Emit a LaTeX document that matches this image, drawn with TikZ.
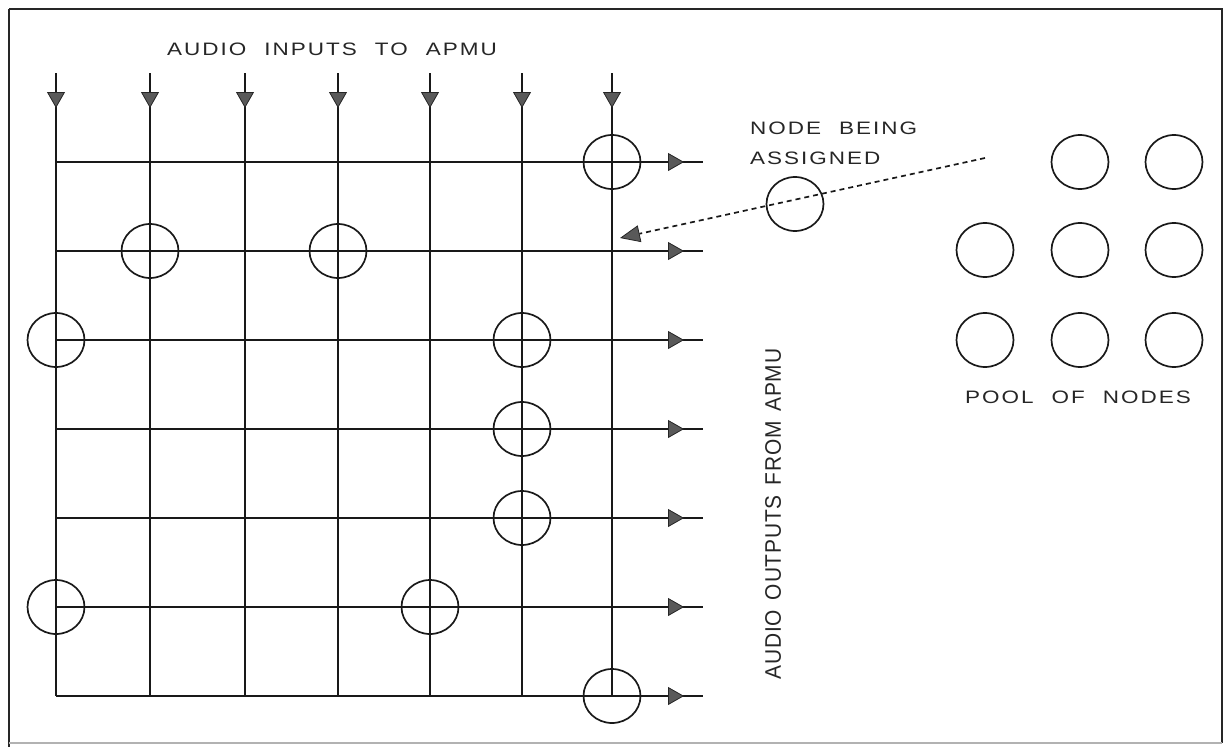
\documentclass[tikz,border=0pt]{standalone}
\usepackage{fontspec}
\usetikzlibrary{arrows.meta,shapes.geometric}
\newfontfamily\cadfont[FakeStretch=1.25,LetterSpace=11,WordSpace=2.2]{Liberation Sans}
\newfontfamily\cadfontv[FakeStretch=0.93,LetterSpace=3.5,WordSpace=1.5]{Liberation Sans}
\begin{document}
\begin{tikzpicture}[x=1pt,y=-1pt,
  wire/.style={line width=1.8pt,black!90},
  arr/.style={line width=1.8pt,black!90,-{Triangle[length=16pt,width=18pt,fill=black!65,color=black!85,line width=0.8pt]}},
  xnode/.style={draw=black!90,line width=1.7pt,ellipse,minimum width=57pt,minimum height=54pt,inner sep=0pt},
  lbl/.style={inner sep=0pt,text=black!85,font=\cadfont\fontsize{18}{30}\selectfont},
  vlbl/.style={inner sep=0pt,text=black!85,font=\cadfontv\fontsize{22.5}{28}\selectfont}]
\useasboundingbox (0,0) rectangle (1227,747);
\draw[line width=2.4pt,black!85] (9,9) -- (1222,9) -- (1222,743);
\draw[line width=2.4pt,black!85] (9,9) -- (9,747);
\draw[line width=1.2pt,black!30] (9,743) -- (1222,743);
% columns (inputs)
\foreach \i/\x in {0/56,1/150,2/245,3/338,4/430,5/522,6/612}{
  \coordinate (in\i) at (\x,73);
  \coordinate (tip\i) at (\x,108);
  \coordinate (bot\i) at (\x,696);
  \draw[wire] (in\i) -- (bot\i);
  \draw[arr] (in\i) -- (tip\i);
}
% rows (outputs)
\foreach \j/\y in {0/162,1/251,2/340,3/429,4/518,5/607,6/696}{
  \coordinate (st\j) at (56,\y);
  \coordinate (otip\j) at (684,\y);
  \coordinate (out\j) at (703,\y);
  \draw[wire] (st\j) -- (out\j);
  \draw[arr] (st\j) -- (otip\j);
}
% assigned nodes
\node[xnode] (n06) at (612,162) {};
\node[xnode] (n11) at (150,251) {};
\node[xnode] (n13) at (338,251) {};
\node[xnode] (n20) at (56,340) {};
\node[xnode] (n25) at (522,340) {};
\node[xnode] (n35) at (522,429) {};
\node[xnode] (n45) at (522,518) {};
\node[xnode] (n50) at (56,607) {};
\node[xnode] (n54) at (430,607) {};
\node[xnode] (n66) at (612,696) {};
% pool
\node[xnode] (p02) at (1080,162) {};
\node[xnode] (p03) at (1174,162) {};
\node[xnode] (p11) at (985,250) {};
\node[xnode] (p12) at (1080,250) {};
\node[xnode] (p13) at (1174,250) {};
\node[xnode] (p21) at (985,340) {};
\node[xnode] (p22) at (1080,340) {};
\node[xnode] (p23) at (1174,340) {};
% node being assigned
\node[xnode] (nb) at (795,204) {};
\coordinate (dfrom) at (985,158);
\coordinate (dto) at (620,238);
\draw[line width=1.7pt,black!90,dash pattern=on 5pt off 4pt,-{Triangle[length=20pt,width=17pt,fill=black!65,color=black!85,line width=0.8pt]}] (dfrom) -- (dto);
% labels
\node[lbl,anchor=west] (tin) at (167,49) {AUDIO INPUTS TO APMU};
\node[lbl,anchor=north west,align=left] (tnb) at (750,122) {NODE BEING\\ASSIGNED};
\node[lbl] (tpool) at (1078,397) {POOL OF NODES};
\node[vlbl,rotate=90] (tout) at (773,514) {AUDIO OUTPUTS FROM APMU};
\end{tikzpicture}
\end{document}
